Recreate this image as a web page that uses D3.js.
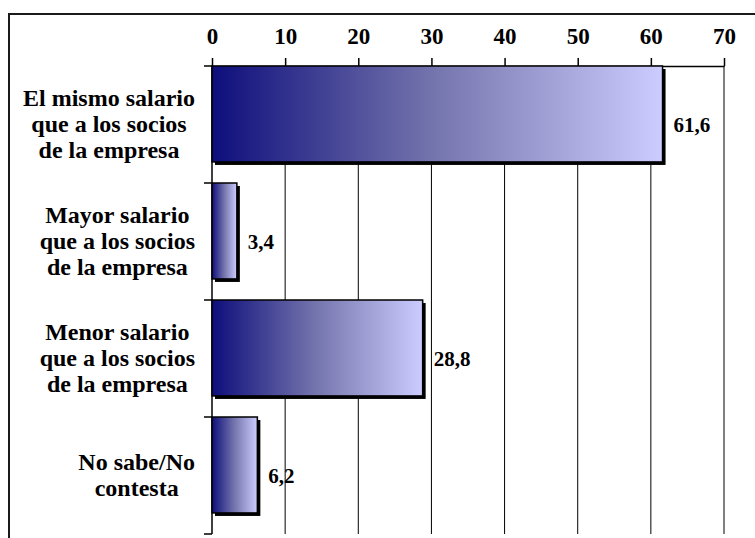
<!DOCTYPE html>
<html>
<head>
<meta charset="utf-8">
<script src="https://cdn.jsdelivr.net/npm/d3@7"></script>
<style>
  html, body { margin: 0; padding: 0; background: #fff; }
  svg { display: block; }
</style>
</head>
<body>
<svg id="chart" width="755" height="538"></svg>
<script>
// categories (each is a list of label lines) and values
const CATEGORIES = [
  ["El mismo salario", "que a los socios", "de la empresa"],
  ["Mayor salario", "que a los socios", "de la empresa"],
  ["Menor salario", "que a los socios", "de la empresa"],
  ["No sabe/No", "contesta"],
];
const VALUES = [61.6, 3.4, 28.8, 6.2];
const VALUE_LABELS = ["61,6", "3,4", "28,8", "6,2"];
const X_TICKS = [0, 10, 20, 30, 40, 50, 60, 70];

const PLOT = { left: 212, right: 724, top: 66, bottom: 534 };
const FONT = "\"Liberation Serif\", Tinos, monospace";

const svg = d3.select("#chart");

// outer frame (runs off the right and bottom edges)
svg.append("rect")
  .attr("x", 9).attr("y", 14).attr("width", 800).attr("height", 600)
  .attr("fill", "none").attr("stroke", "#1a1a1a").attr("stroke-width", 2);

// gradient, stretched to each bar
const grad = svg.append("defs").append("linearGradient")
  .attr("id", "barGrad").attr("x1", 0).attr("x2", 1).attr("y1", 0).attr("y2", 0);
grad.append("stop").attr("offset", 0).attr("stop-color", "#0e0e7c");
grad.append("stop").attr("offset", 0.5).attr("stop-color", "#7676ae");
grad.append("stop").attr("offset", 1).attr("stop-color", "#ccccff");

const x = d3.scaleLinear().domain([0, 70]).range([PLOT.left, PLOT.right]);
const y = d3.scaleBand().domain(d3.range(CATEGORIES.length))
  .range([PLOT.top, PLOT.bottom]).paddingInner(0).paddingOuter(0);
const barH = y.bandwidth() * 0.82;

// vertical gridlines
svg.append("g").selectAll("line")
  .data(X_TICKS.filter(d => d > 0)).join("line")
  .attr("x1", d => x(d)).attr("x2", d => x(d))
  .attr("y1", PLOT.top).attr("y2", PLOT.bottom)
  .attr("stroke", "#000").attr("stroke-width", 1);

// top axis
const topAxis = svg.append("g").attr("transform", `translate(0,${PLOT.top})`)
  .call(d3.axisTop(x).tickValues(X_TICKS).tickSize(8).tickPadding(14).tickSizeOuter(0))
  .attr("font-family", FONT).attr("font-size", 23).attr("font-weight", "bold");
topAxis.select(".domain").attr("stroke", "#000").attr("stroke-width", 1.5);
topAxis.selectAll(".tick line").attr("stroke", "#000").attr("stroke-width", 1.5);
topAxis.selectAll(".tick text").attr("fill", "#000");

// left axis line with ticks at band boundaries
svg.append("line")
  .attr("x1", PLOT.left).attr("x2", PLOT.left)
  .attr("y1", PLOT.top).attr("y2", PLOT.bottom)
  .attr("stroke", "#000").attr("stroke-width", 1.5);
const bounds = d3.range(CATEGORIES.length).map(i => y(i)).concat([PLOT.bottom]);
svg.append("g").selectAll("line").data(bounds).join("line")
  .attr("x1", PLOT.left - 8).attr("x2", PLOT.left)
  .attr("y1", d => d).attr("y2", d => d)
  .attr("stroke", "#000").attr("stroke-width", 1.5);

// bars: shadow then gradient fill
const bars = svg.append("g");
bars.selectAll("rect.shadow").data(VALUES).join("rect")
  .attr("class", "shadow")
  .attr("x", x(0) + 3).attr("y", (d, i) => y(i) + 3)
  .attr("width", d => x(d) - x(0)).attr("height", barH)
  .attr("fill", "#000");
bars.selectAll("rect.bar").data(VALUES).join("rect")
  .attr("class", "bar")
  .attr("x", x(0)).attr("y", (d, i) => y(i))
  .attr("width", d => x(d) - x(0)).attr("height", barH)
  .attr("fill", "url(#barGrad)").attr("stroke", "#000").attr("stroke-width", 1.5);

// value labels
svg.append("g")
  .attr("font-family", FONT).attr("font-size", 21).attr("font-weight", "bold")
  .selectAll("text").data(VALUES).join("text")
  .attr("x", d => x(d) + 11)
  .attr("y", (d, i) => y(i) + y.bandwidth() / 2 + 7)
  .attr("fill", "#000")
  .text((d, i) => VALUE_LABELS[i]);

// category labels: centred blocks, right edge near the axis
const LINE_H = 26;
const catG = svg.append("g")
  .attr("font-family", FONT).attr("font-size", 24).attr("font-weight", "bold");
CATEGORIES.forEach((lines, i) => {
  const cy = y(i) + y.bandwidth() / 2;
  const t = catG.append("text").attr("fill", "#000").attr("text-anchor", "middle");
  lines.forEach((s, j) => {
    t.append("tspan")
      .attr("y", cy + (j - (lines.length - 1) / 2) * LINE_H + 7)
      .text(s);
  });
  const maxW = d3.max(t.selectAll("tspan").nodes(), n => n.getComputedTextLength());
  t.selectAll("tspan").attr("x", 195 - maxW / 2);
});
</script>
</body>
</html>
